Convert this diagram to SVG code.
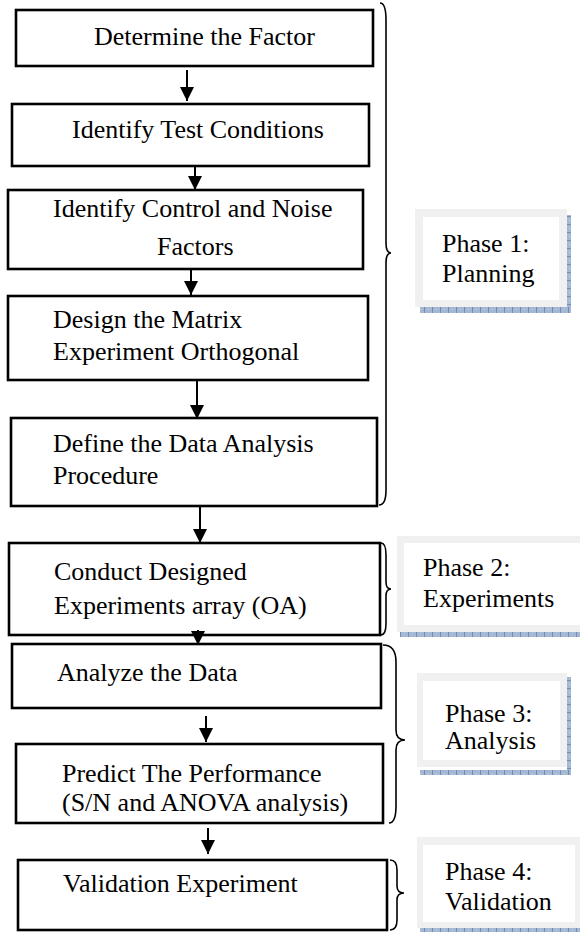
<svg xmlns="http://www.w3.org/2000/svg" width="580" height="932" viewBox="0 0 580 932">
<defs>
<style>
.box{fill:#fff;stroke:#000;stroke-width:2.6}
.t{font-family:"Liberation Serif","Times New Roman",serif;font-size:26px;fill:#000}
.conn line{stroke:#000;stroke-width:2}
.brace{fill:none;stroke:#000;stroke-width:1.6}
.frame{fill:#f0f0f0}
.inner{fill:#fff}
.shadow{fill:url(#dots)}
</style>
<pattern id="dots" width="8" height="4" patternUnits="userSpaceOnUse">
<rect width="8" height="4" fill="#a4b8d4"/>
<rect x="0" width="1" height="4" fill="#6f8db5"/>
<rect x="4" y="1" width="1" height="1" fill="#c9d5e6"/>
</pattern>
<pattern id="dotsv" width="4" height="8" patternUnits="userSpaceOnUse">
<rect width="4" height="8" fill="#a4b8d4"/>
<rect y="0" width="4" height="1" fill="#6f8db5"/>
<rect x="1" y="4" width="1" height="1" fill="#c9d5e6"/>
</pattern>
<marker id="ah" viewBox="0 0 10 10" refX="10" refY="5" markerWidth="7" markerHeight="7" orient="auto" markerUnits="strokeWidth">
<path d="M0,0 L10,5 L0,10 z" fill="#000"/>
</marker>
</defs>

<g id="n1"><rect class="box" x="16" y="10" width="357" height="56"/><text class="t" x="94" y="45">Determine the Factor</text></g>
<g id="n2"><rect class="box" x="12" y="104" width="357" height="62"/><text class="t" x="72" y="138">Identify Test Conditions</text></g>
<g id="n3"><rect class="box" x="8" y="190" width="355" height="79"/><text class="t" x="53" y="217">Identify Control and Noise</text><text class="t" x="157" y="255">Factors</text></g>
<g id="n4"><rect class="box" x="8" y="296" width="360" height="84"/><text class="t" x="53" y="328">Design the Matrix</text><text class="t" x="53" y="360">Experiment Orthogonal</text></g>
<g id="n5"><rect class="box" x="11" y="418" width="366" height="88"/><text class="t" x="53" y="452">Define the Data Analysis</text><text class="t" x="53" y="484">Procedure</text></g>
<g id="n6"><rect class="box" x="9" y="543" width="371" height="92"/><text class="t" x="54" y="580">Conduct Designed</text><text class="t" x="54" y="614">Experiments array (OA)</text></g>
<g id="n7"><rect class="box" x="12" y="644" width="369" height="64"/><text class="t" x="57" y="681">Analyze the Data</text></g>
<g id="n8"><rect class="box" x="16" y="744" width="367" height="79"/><text class="t" x="62" y="782">Predict The Performance</text><text class="t" x="62" y="811">(S/N and ANOVA analysis)</text></g>
<g id="n9"><rect class="box" x="18" y="860" width="369" height="70"/><text class="t" x="63" y="892">Validation Experiment</text></g>

<g id="connectors" class="conn">
<line x1="187" y1="70" x2="187" y2="101" marker-end="url(#ah)"/>
<line x1="195" y1="167" x2="195" y2="190" marker-end="url(#ah)"/>
<line x1="191" y1="270" x2="191" y2="295" marker-end="url(#ah)"/>
<line x1="197" y1="381" x2="197" y2="419" marker-end="url(#ah)"/>
<line x1="200" y1="507" x2="200" y2="543" marker-end="url(#ah)"/>
<line x1="198" y1="630" x2="198" y2="645" marker-end="url(#ah)"/>
<line x1="206" y1="716" x2="206" y2="742" marker-end="url(#ah)"/>
<line x1="208" y1="828" x2="208" y2="854" marker-end="url(#ah)"/>
</g>

<g id="brace1"><path class="brace" d="M380 3 Q386 3 386 20 L386 243 Q386 253 391 253 Q386 253 386 263 L386 490 Q386 505 379 505"/></g>
<g id="brace2"><path class="brace" d="M381 543 Q386 543 386 555 L386 582 Q386 589 391 589 Q386 589 386 596 L386 623 Q386 635 381 635"/></g>
<g id="brace3"><path class="brace" d="M383 645 Q396 645 396 662 L396 730 Q396 740 405 740 Q396 740 396 750 L396 806 Q396 823 389 823"/></g>
<g id="brace4"><path class="brace" d="M390 860 Q397 860 397 870 L397 886 Q397 893 404 893 Q397 893 397 900 L397 920 Q397 930 390 930"/></g>

<g id="phase1">
<rect class="frame" x="415" y="209" width="152" height="98"/>
<rect class="inner" x="423" y="217" width="136" height="83"/>
<rect fill="url(#dotsv)" x="567" y="215" width="4" height="98"/>
<rect class="shadow" x="420" y="307" width="151" height="6"/>
<text class="t" x="442" y="252">Phase 1:</text><text class="t" x="442" y="282">Planning</text>
</g>
<g id="phase2">
<rect class="frame" x="397" y="536" width="183" height="96"/>
<rect class="inner" x="404" y="543" width="176" height="82"/>
<rect class="shadow" x="400" y="632" width="180" height="5"/>
<text class="t" x="423" y="576">Phase 2:</text><text class="t" x="423" y="607">Experiments</text>
</g>
<g id="phase3">
<rect class="frame" x="417" y="673" width="150" height="94"/>
<rect class="inner" x="423" y="681" width="137" height="79"/>
<rect fill="url(#dotsv)" x="567" y="677" width="4" height="98"/>
<rect class="shadow" x="420" y="770" width="151" height="5"/>
<text class="t" x="445" y="722">Phase 3:</text><text class="t" x="445" y="749">Analysis</text>
</g>
<g id="phase4">
<rect class="frame" x="417" y="837" width="163" height="91"/>
<rect class="inner" x="423" y="845" width="152" height="77"/>
<rect class="shadow" x="420" y="928" width="160" height="4"/>
<text class="t" x="445" y="880">Phase 4:</text><text class="t" x="445" y="910">Validation</text>
</g>
</svg>
